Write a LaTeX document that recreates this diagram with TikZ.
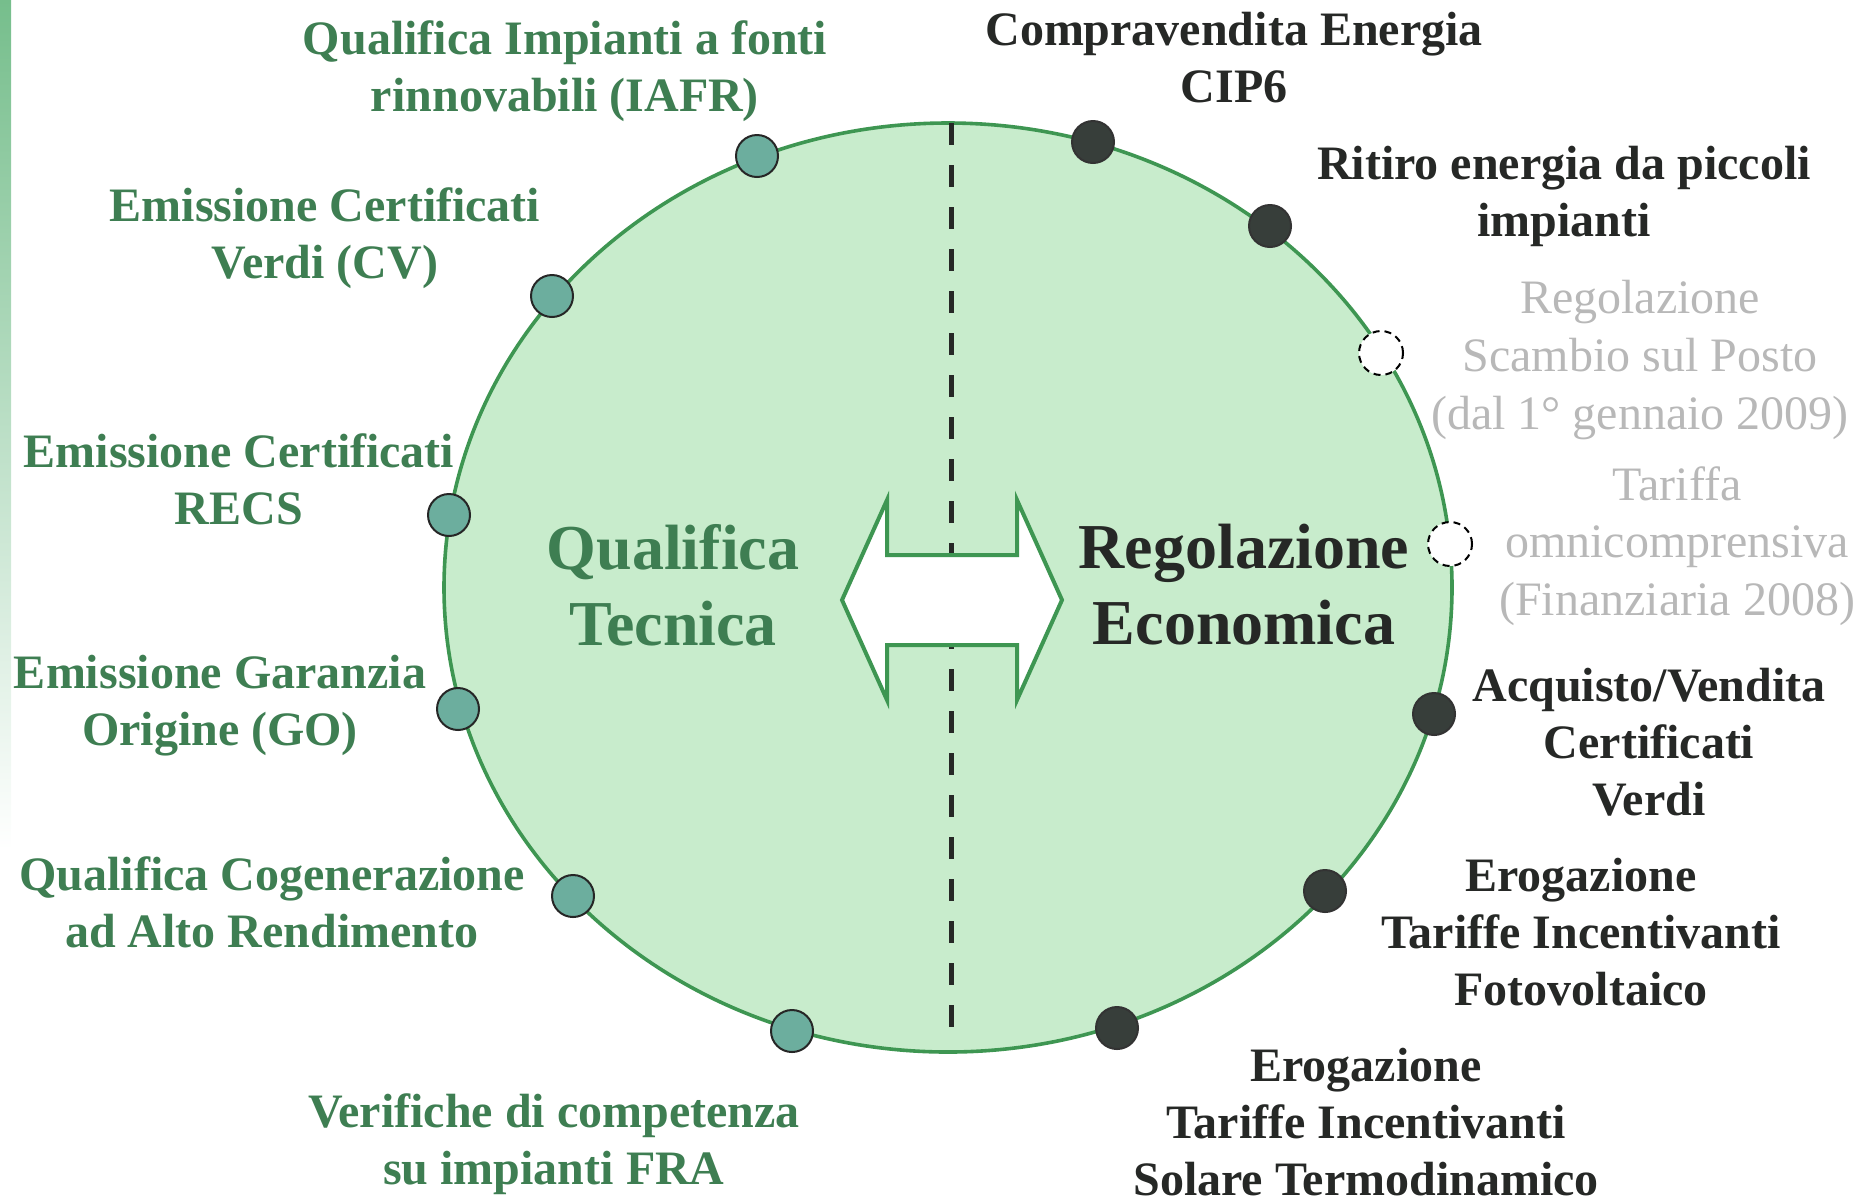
\documentclass[tikz,border=0pt]{standalone}
\usepackage{fontspec}
\setmainfont{Liberation Serif}
\usetikzlibrary{positioning}

\definecolor{ringfill}{RGB}{200,236,204}
\definecolor{ringline}{RGB}{62,150,82}
\definecolor{tealdot}{RGB}{108,174,158}
\definecolor{darkdot}{RGB}{55,62,58}
\definecolor{greentext}{RGB}{62,126,82}
\definecolor{darktext}{RGB}{38,40,38}
\definecolor{greytext}{RGB}{184,184,184}
\definecolor{stripgreen}{RGB}{118,190,140}

\begin{document}
\begin{tikzpicture}
[x=0.5pt,y=-0.5pt,
 every node/.style={inner sep=0pt,outer sep=0pt},
 tdot/.style={circle,draw=black!85,line width=1pt,fill=tealdot,minimum size=21pt},
 ddot/.style={circle,draw=black!80,line width=1pt,fill=darkdot,minimum size=21pt},
 wdot/.style={circle,draw=black,dash pattern=on 3.5pt off 2.5pt,line width=1pt,fill=white,minimum size=22pt},
 glab/.style={align=center,text=greentext,font=\fontsize{24}{28.5}\selectfont\bfseries},
 klab/.style={glab,text=darktext},
 hlab/.style={align=center,text=greytext,font=\fontsize{24}{28.8}\selectfont},
 big/.style={align=center,font=\fontsize{32}{38}\selectfont\bfseries}]
\useasboundingbox (0,0) rectangle (1861,1196);
\shade[top color=stripgreen,bottom color=white] (0,0) rectangle (11,850);
% ring and split line
\coordinate (ctr) at (948,587.5);
\coordinate (top) at (951,123);
\coordinate (bot) at (951,1046);
\draw[ringline,line width=1.8pt,fill=ringfill] (ctr) ellipse [x radius=504,y radius=464.5];
\draw[darktext,line width=2.5pt,dash pattern=on 11pt off 10pt] (top) -- (bot);
% double arrow
\draw[ringline,line width=2pt,fill=white,line join=miter]
  (842,600) -- (887,500) -- (887,555) -- (1017,555) -- (1017,500) -- (1062,600)
  -- (1017,700) -- (1017,645) -- (887,645) -- (887,700) -- cycle;
\node[big,text=greentext] (qt) at (673,585) {Qualifica\\Tecnica};
\node[big,text=darktext]  (re) at (1244,585) {Regolazione\\Economica};
% dots, left side
\node[tdot] (d1) at (757,156) {};
\node[tdot] (d2) at (552,296) {};
\node[tdot] (d3) at (449,515) {};
\node[tdot] (d4) at (458,709) {};
\node[tdot] (d5) at (573,896) {};
\node[tdot] (d6) at (792,1031) {};
% dots, right side
\node[ddot] (r1) at (1093,142) {};
\node[ddot] (r2) at (1270,226) {};
\node[wdot] (r3) at (1381,353) {};
\node[wdot] (r4) at (1450,544) {};
\node[ddot] (r5) at (1434,714) {};
\node[ddot] (r6) at (1325,891) {};
\node[ddot] (r7) at (1117,1028) {};
% labels, left side
\node[glab] (l1) [on grid,above left=42.5pt and 96pt of d1]   {Qualifica Impianti a fonti\\rinnovabili (IAFR)};
\node[glab] (l2) [on grid,above left=29pt and 113.5pt of d2]  {Emissione Certificati\\Verdi (CV)};
\node[glab] (l3) [on grid,above left=18pt and 105pt of d3]    {Emissione Certificati\\RECS};
\node[glab] (l4) [on grid,above left=1.5pt and 119pt of d4]   {Emissione Garanzia\\Origine (GO)};
\node[glab] (l5) [on grid,below left=3pt and 150.5pt of d5]   {Qualifica Cogenerazione\\ad Alto Rendimento};
\node[glab] (l6) [on grid,below left=56.5pt and 119pt of d6]  {Verifiche di competenza\\su impianti FRA};
% labels, right side
\node[klab] (m1) [on grid,above right=42pt and 70.5pt of r1]  {Compravendita Energia\\CIP6};
\node[klab] (m2) [on grid,above right=15pt and 147pt of r2]   {Ritiro energia da piccoli\\impianti};
\node[hlab] (m3) [on grid,below right=3.5pt and 129.5pt of r3] {Regolazione\\Scambio sul Posto\\(dal 1° gennaio 2009)};
\node[hlab] (m4) [on grid,below right=1pt and 113.5pt of r4]  {Tariffa\\omnicomprensiva\\(Finanziaria 2008)};
\node[klab] (m5) [on grid,below right=14pt and 107.5pt of r5] {Acquisto/Vendita\\Certificati\\Verdi};
\node[klab] (m6) [on grid,below right=20.5pt and 128pt of r6] {Erogazione\\Tariffe Incentivanti\\Fotovoltaico};
\node[klab] (m7) [on grid,below right=47pt and 124.5pt of r7] {Erogazione\\Tariffe Incentivanti\\Solare Termodinamico};
\end{tikzpicture}
\end{document}
